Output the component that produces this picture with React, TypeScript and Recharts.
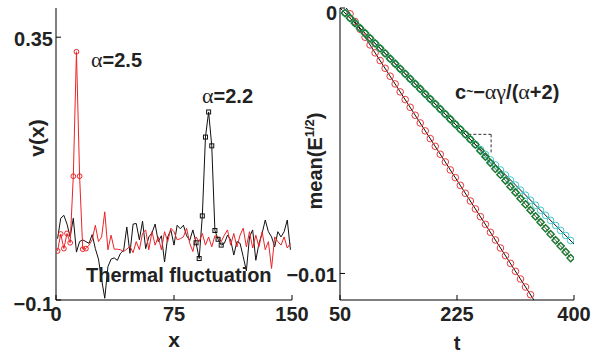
import { ComposedChart, Line, XAxis, YAxis, ReferenceLine } from 'recharts';

// left panel: v(x) on odd x positions
const xGrid = Array.from({ length: 75 }, (_, i) => 2 * i + 1);

const redV = [
  -0.016, 0.013, -0.012, 0.014, -0.002, 0.112, 0.325, 0.112, -0.013, -0.012,
  -0.006, 0.003, 0.028, 0.0, 0.008, 0.051, -0.014, 0.011, -0.013, -0.013,
  -0.014, -0.017, -0.013, -0.008, -0.019, 0.0, -0.014, 0.014, 0.02, -0.014,
  0.017, -0.006, 0.008, -0.014, 0.017, 0.0, 0.023, 0.017, 0.003, 0.005,
  0.008, 0.023, -0.003, -0.017, 0.008, 0.0, 0.014, -0.006, 0.008, -0.009,
  0.01, 0.008, 0.0, 0.011, 0.02, -0.006, 0.014, -0.009, 0.011, 0.023,
  -0.009, 0.017, -0.011, 0.011, -0.009, 0.017, -0.014, 0.0, -0.046, 0.008,
  0.0, -0.006, 0.008, -0.011, -0.003,
];

const blackV = [
  0.005, 0.04, 0.045, 0.03, 0.008, 0.04, -0.018, 0.0, 0.003, 0.0,
  -0.003, 0.012, -0.012, -0.03, -0.065, -0.097, -0.043, -0.03, -0.028, -0.032,
  -0.02, -0.015, 0.025, -0.02, 0.03, 0.031, 0.003, 0.035, -0.012, 0.008,
  0.015, 0.03, 0.0, 0.01, -0.035, 0.008, 0.02, -0.006, 0.028, 0.022,
  0.028, 0.01, 0.002, 0.02, -0.002, -0.029, 0.044, 0.179, 0.222, 0.164,
  0.019, 0.004, -0.006, -0.003, 0.011, 0.003, -0.023, 0.0, -0.003, -0.026,
  -0.05, 0.008, 0.02, -0.032, -0.003, 0.014, 0.037, 0.017, 0.008, -0.009,
  0.017, 0.008, 0.017, 0.037, -0.014,
];

const RED_MARKED = 10; // first points drawn with circles
const BLACK_MARKED = [89, 105]; // x range drawn with squares

// right panel: mean(E^1/2) vs t
const tRed = Array.from({ length: 37 }, (_, i) => 65 + 7.5 * i);
const redE = [
  -0.00022, -0.00051, -0.0008, -0.0011, -0.00139, -0.00169, -0.00198, -0.00227, -0.00257, -0.00286,
  -0.00316, -0.00345, -0.00374, -0.00404, -0.00433, -0.00463, -0.00492, -0.00521, -0.00551, -0.0058,
  -0.0061, -0.00639, -0.00668, -0.00698, -0.00727, -0.00757, -0.00786, -0.00815, -0.00845, -0.00874,
  -0.00904, -0.00933, -0.00962, -0.00992, -0.01021, -0.01051, -0.0108,
];

const tUp = Array.from({ length: 46 }, (_, i) => 57.5 + 7.5 * i);
const cyanE = [
  -0.00019, -0.00038, -0.00057, -0.00076, -0.00095, -0.00114, -0.00133, -0.00152, -0.00171, -0.00191,
  -0.0021, -0.00229, -0.00248, -0.00267, -0.00286, -0.00305, -0.00324, -0.00343, -0.00362, -0.00381,
  -0.004, -0.00419, -0.00438, -0.00457, -0.00476, -0.00495, -0.00514, -0.00533, -0.00552, -0.00572,
  -0.00591, -0.0061, -0.00629, -0.00648, -0.00667, -0.00686, -0.00705, -0.00724, -0.00743, -0.00762,
  -0.00781, -0.008, -0.00819, -0.00838, -0.00857, -0.00876,
];
const greenE = [
  -0.00019, -0.00038, -0.00057, -0.00076, -0.00095, -0.00114, -0.00133, -0.00152, -0.00171, -0.00191,
  -0.0021, -0.00229, -0.00248, -0.00267, -0.00286, -0.00305, -0.00324, -0.00343, -0.00362, -0.00381,
  -0.004, -0.00419, -0.00438, -0.00457, -0.00476, -0.00495, -0.00515, -0.00538, -0.0056, -0.00583,
  -0.00606, -0.00628, -0.0065, -0.00673, -0.00695, -0.00718, -0.0074, -0.00762, -0.00785, -0.00807,
  -0.0083, -0.00852, -0.00875, -0.00897, -0.00919, -0.00942,
];

const fitT = [50, 400];
const redFit = [0.00037, -0.01335];
const cyanFit = [0, -0.00889];

const leftRed = xGrid.map((x, i) => ({ x, y: redV[i] }));
const leftBlack = xGrid.map((x, i) => ({ x, y: blackV[i] }));
const rRed = tRed.map((x, i) => ({ x, y: redE[i] }));
const rCyan = tUp.map((x, i) => ({ x, y: cyanE[i] }));
const rGreen = tUp.map((x, i) => ({ x, y: greenE[i] }));
const rRedFit = fitT.map((x, i) => ({ x, y: redFit[i] }));
const rCyanFit = fitT.map((x, i) => ({ x, y: cyanFit[i] }));

const SANS = 'Liberation Sans, Arial, Helvetica, sans-serif';
const SERIF = 'Liberation Serif, Times New Roman, serif';
const fmt = (v: number) => (v < 0 ? '\u2212' + Math.abs(v) : String(v));
const blank = () => '';

const RED = '#ec2327';
const AX = { stroke: '#000' };

const XTick = (p: any) => (
  <text x={p.x} y={p.y} dy="0.71em" textAnchor="middle" fontFamily={SANS} fontWeight={700} fontSize={20} fill="#222">
    {fmt(p.payload.value)}
  </text>
);

const YTick = (shift: (v: number) => number) => (p: any) => (
  <text x={p.x} y={p.y + shift(p.payload.value)} dy="0.36em" textAnchor="end" fontFamily={SANS} fontWeight={700} fontSize={20} fill="#222">
    {fmt(p.payload.value)}
  </text>
);

const redDot = (p: any) =>
  p.index < RED_MARKED ? (
    <circle key={'r' + p.index} cx={p.cx} cy={p.cy} r={2.4} stroke={RED} strokeWidth={1} fill="none" />
  ) : (
    <g key={'r' + p.index} />
  );

const blackDot = (p: any) =>
  p.payload.x >= BLACK_MARKED[0] && p.payload.x <= BLACK_MARKED[1] ? (
    <rect key={'b' + p.index} x={p.cx - 2} y={p.cy - 2} width={4} height={4} stroke="#111" strokeWidth={1} fill="none" />
  ) : (
    <g key={'b' + p.index} />
  );

const circleDot = (color: string) => (p: any) =>
  <circle key={color + p.index} cx={p.cx} cy={p.cy} r={3.3} stroke={color} strokeWidth={1} fill="none" />;

const diamondDot = (p: any) => (
  <path
    key={'g' + p.index}
    d={`M${p.cx},${p.cy - 3.6}L${p.cx + 3.6},${p.cy}L${p.cx},${p.cy + 3.6}L${p.cx - 3.6},${p.cy}Z`}
    stroke="#1d7a31"
    strokeWidth={1.5}
    fill="none"
  />
);

export default function App() {
  return (
    <div style={{ position: 'fixed', left: 0, top: 0, width: 604, height: 354, background: '#fff', overflow: 'hidden' }}>
      <div style={{ position: 'absolute', left: 0, top: 0 }}>
        <ComposedChart width={320} height={354} margin={{ top: 8, right: 28, bottom: 0, left: 0 }}>
          <XAxis xAxisId="b" type="number" dataKey="x" domain={[0, 150]} ticks={[0, 75, 150]} interval={0} height={54}
            tickSize={-5} tickMargin={12} allowDataOverflow axisLine={AX} tickLine={AX} tick={XTick} />
          <XAxis xAxisId="t" orientation="top" type="number" dataKey="x" domain={[0, 150]} ticks={[0, 75, 150]} interval={0} height={0}
            tickSize={-5} allowDataOverflow axisLine={AX} tickLine={AX} tickFormatter={blank} />
          <YAxis yAxisId="l" type="number" domain={[-0.1, 0.4]} ticks={[-0.1, 0.35]} interval={0} width={56}
            tickSize={-5} tickMargin={8} allowDataOverflow axisLine={AX} tickLine={AX} tick={YTick((v) => (v < 0 ? 4 : 1.5))} />
          <YAxis yAxisId="r" orientation="right" type="number" domain={[-0.1, 0.4]} ticks={[-0.1, 0.35]} interval={0} width={0}
            tickSize={-5} allowDataOverflow axisLine={AX} tickLine={AX} tickFormatter={blank} />
          <Line xAxisId="b" yAxisId="l" data={leftBlack} dataKey="y" stroke="#111" strokeWidth={1} dot={blackDot} isAnimationActive={false} />
          <Line xAxisId="b" yAxisId="l" data={leftRed} dataKey="y" stroke={RED} strokeWidth={1} dot={redDot} isAnimationActive={false} />
        </ComposedChart>
      </div>
      <div style={{ position: 'absolute', left: 280, top: 0 }}>
        <ComposedChart width={324} height={354} margin={{ top: 8, right: 30, bottom: 0, left: 0 }}>
          <XAxis xAxisId="b" type="number" dataKey="x" domain={[50, 400]} ticks={[50, 225, 400]} interval={0} height={54}
            tickSize={-5} tickMargin={12} allowDataOverflow axisLine={AX} tickLine={AX} tick={XTick} />
          <XAxis xAxisId="t" orientation="top" type="number" dataKey="x" domain={[50, 400]} ticks={[50, 225, 400]} interval={0} height={0}
            tickSize={-5} allowDataOverflow axisLine={AX} tickLine={AX} tickFormatter={blank} />
          <YAxis yAxisId="l" type="number" domain={[-0.011, 0]} ticks={[-0.01, 0]} interval={0} width={60}
            tickSize={-5} tickMargin={8} allowDataOverflow axisLine={AX} tickLine={AX} tick={YTick((v) => (v === 0 ? 5 : 1))} />
          <YAxis yAxisId="r" orientation="right" type="number" domain={[-0.011, 0]} ticks={[-0.01, 0]} interval={0} width={0}
            tickSize={-5} allowDataOverflow axisLine={AX} tickLine={AX} tickFormatter={blank} />
          <ReferenceLine xAxisId="b" yAxisId="l" segment={[{ x: 242, y: -0.00476 }, { x: 276, y: -0.00476 }]} stroke="#333" strokeDasharray="3 2" />
          <ReferenceLine xAxisId="b" yAxisId="l" segment={[{ x: 276, y: -0.00476 }, { x: 276, y: -0.00546 }]} stroke="#333" strokeDasharray="3 2" />
          <Line xAxisId="b" yAxisId="l" data={rRed} dataKey="y" stroke="none" dot={circleDot('#e8383a')} isAnimationActive={false} />
          <Line xAxisId="b" yAxisId="l" data={rCyan} dataKey="y" stroke="none" dot={circleDot('#3cc8cc')} isAnimationActive={false} />
          <Line xAxisId="b" yAxisId="l" data={rGreen} dataKey="y" stroke="#222" strokeWidth={0.8} dot={diamondDot} isAnimationActive={false} />
          <Line xAxisId="b" yAxisId="l" data={rRedFit} dataKey="y" stroke="#111" strokeWidth={1} dot={false} isAnimationActive={false} />
          <Line xAxisId="b" yAxisId="l" data={rCyanFit} dataKey="y" stroke="#111" strokeWidth={1} dot={false} isAnimationActive={false} />
        </ComposedChart>
      </div>
      <svg width={604} height={354} style={{ position: 'absolute', left: 0, top: 0, pointerEvents: 'none' }}>
        <g fontFamily={SANS} fontWeight={700} fill="#222">
          <text x={91} y={67} fontSize={20}>
            <tspan fontFamily={SERIF} fontWeight={400} fontSize={22}>α</tspan>=2.5
          </text>
          <text x={202} y={103} fontSize={20}>
            <tspan fontFamily={SERIF} fontWeight={400} fontSize={22}>α</tspan>=2.2
          </text>
          <text x={86} y={282} fontSize={20}>Thermal fluctuation</text>
          <text x={455} y={99} fontSize={20}>
            c<tspan fontSize={12} dy={-3}>~</tspan><tspan dy={3}>−</tspan>
            <tspan fontFamily={SERIF} fontWeight={400} fontSize={22}>αγ</tspan>/(
            <tspan fontFamily={SERIF} fontWeight={400} fontSize={22}>α</tspan>+2)
          </text>
          <text x={174} y={347} fontSize={21} textAnchor="middle">x</text>
          <text x={457} y={350} fontSize={20} textAnchor="middle">t</text>
          <text transform="translate(44,138) rotate(-90)" fontSize={21} textAnchor="middle">v(x)</text>
          <text transform="translate(322,161) rotate(-90)" fontSize={20} textAnchor="middle">
            mean(E<tspan fontSize={13} dy={-8}>1/2</tspan><tspan dy={8}>)</tspan>
          </text>
        </g>
      </svg>
    </div>
  );
}
